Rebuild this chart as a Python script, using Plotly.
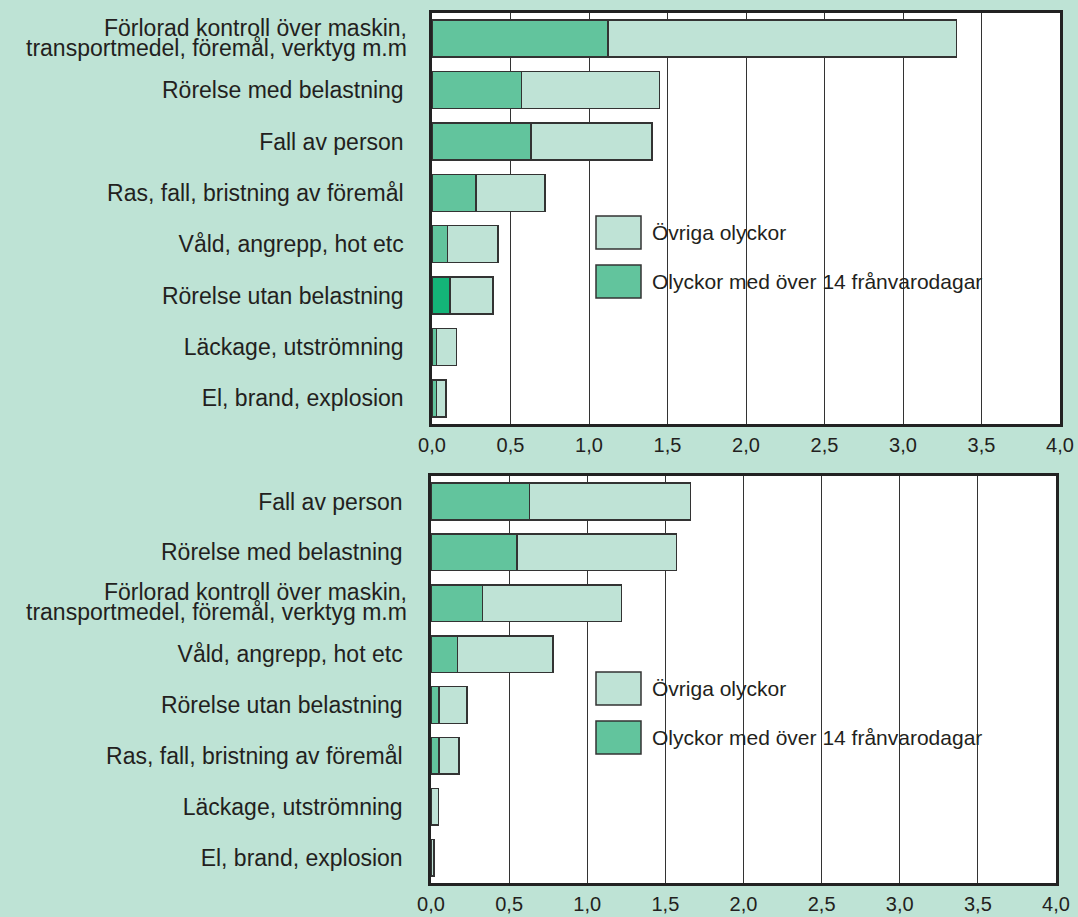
import plotly.graph_objects as go

# top panel
top_categories = ["Förlorad kontroll över maskin, transportmedel, föremål, verktyg m.m",
                  "Rörelse med belastning", "Fall av person", "Ras, fall, bristning av föremål",
                  "Våld, angrepp, hot etc", "Rörelse utan belastning", "Läckage, utströmning",
                  "El, brand, explosion"]
top_severe = [1.12, 0.57, 0.63, 0.28, 0.10, 0.115, 0.03, 0.03]
top_other = [2.22, 0.88, 0.77, 0.44, 0.32, 0.275, 0.125, 0.06]

# bottom panel
bottom_categories = ["Fall av person", "Rörelse med belastning",
                     "Förlorad kontroll över maskin, transportmedel, föremål, verktyg m.m",
                     "Våld, angrepp, hot etc", "Rörelse utan belastning",
                     "Ras, fall, bristning av föremål", "Läckage, utströmning",
                     "El, brand, explosion"]
bottom_severe = [0.63, 0.55, 0.33, 0.17, 0.05, 0.05, 0.0, 0.0]
bottom_other = [1.03, 1.02, 0.89, 0.61, 0.18, 0.13, 0.047, 0.019]

x_ticks = [0, 0.5, 1, 1.5, 2, 2.5, 3, 3.5, 4]
x_ticktext = ["0,0", "0,5", "1,0", "1,5", "2,0", "2,5", "3,0", "3,5", "4,0"]

legend_names = ["Övriga olyckor", "Olyckor med över 14 frånvarodagar"]
long_label = "Förlorad kontroll över maskin, transportmedel, föremål, verktyg m.m"
long_lines = ["Förlorad kontroll över maskin,", "transportmedel, föremål, verktyg m.m"]

W, H = 1078, 917
BG = '#bee3d5'
LIGHT = '#bfe3d6'
DARK = '#62c49d'
TXT = '#231f20'
EDGE = '#333333'
FONT = 'Liberation Sans, Arial, sans-serif'


def px(x):
    return x / W


def py(y):
    return 1 - y / H


fig = go.Figure()

panels = [
    (top_categories, top_severe, top_other, 'x', 'y',
     [DARK if c != "Rörelse utan belastning" else '#14b478' for c in top_categories]),
    (bottom_categories, bottom_severe, bottom_other, 'x2', 'y2', [DARK] * len(bottom_categories)),
]

for cats, severe, other, xa, ya, dark_colors in panels:
    idx = list(range(len(cats)))
    fig.add_trace(go.Bar(y=idx, x=severe, orientation='h', xaxis=xa, yaxis=ya,
                         name=legend_names[1], width=0.72,
                         marker=dict(color=dark_colors, line=dict(color=EDGE, width=1.5))))
    fig.add_trace(go.Bar(y=idx, x=other, orientation='h', xaxis=xa, yaxis=ya,
                         name=legend_names[0], width=0.72,
                         marker=dict(color=LIGHT, line=dict(color=EDGE, width=1.5))))

axis_common = dict(range=[0, 4], tickvals=x_ticks, ticktext=x_ticktext,
                   showgrid=True, gridcolor='#333333', gridwidth=1.3,
                   showline=True, mirror=True, linecolor='#222222', linewidth=2.5,
                   ticks='', zeroline=False, ticklabelstandoff=1,
                   tickfont=dict(size=20, color=TXT, family=FONT))


def yaxis_for(cats):
    return dict(range=[len(cats) - 0.5, -0.5], tickvals=list(range(len(cats))),
                ticktext=["" if c == long_label else c for c in cats],
                showgrid=False, showline=True, mirror=True, linecolor='#222222',
                linewidth=2.5, ticks='', zeroline=False, ticklabelstandoff=21,
                tickfont=dict(size=23, color=TXT, family=FONT))


fig.update_layout(
    width=W, height=H,
    paper_bgcolor=BG, plot_bgcolor='white',
    margin=dict(l=0, r=0, t=0, b=0, autoexpand=False),
    barmode='stack', showlegend=False,
    font=dict(family=FONT, color=TXT),
    xaxis=dict(domain=[px(432), px(1060)], anchor='y', **axis_common),
    yaxis=dict(domain=[py(424), py(13)], anchor='x', **yaxis_for(top_categories)),
    xaxis2=dict(domain=[px(431), px(1056)], anchor='y2', **axis_common),
    yaxis2=dict(domain=[py(883), py(476)], anchor='x2', **yaxis_for(bottom_categories)),
)

# two-line label drawn tight like the original
for cats, ya in [(top_categories, 'y'), (bottom_categories, 'y2')]:
    i = cats.index(long_label)
    for line, shift in zip(long_lines, [11, -9]):
        fig.add_annotation(x=px(409), xref='paper', y=i, yref=ya, text=line,
                           showarrow=False, xanchor='right', yanchor='middle', yshift=shift,
                           font=dict(size=23, color=TXT, family=FONT))

# legends as boxes with text
for top_y in [216, 672]:
    for k, (name, col) in enumerate(zip(legend_names, [LIGHT, DARK])):
        y0 = top_y + k * 49
        fig.add_shape(type='rect', xref='paper', yref='paper',
                      x0=px(596), x1=px(641), y0=py(y0), y1=py(y0 + 33),
                      fillcolor=col, line=dict(color=EDGE, width=1.5))
        fig.add_annotation(x=px(650), xref='paper', y=py(y0 + 16.5), yref='paper',
                           text=name, showarrow=False, xanchor='left', yanchor='middle',
                           font=dict(size=21, color=TXT, family=FONT))

fig.write_html("out.html", config={'displayModeBar': False},
               post_script="document.body.style.margin='0';"
                           "document.body.style.overflow='hidden';")
